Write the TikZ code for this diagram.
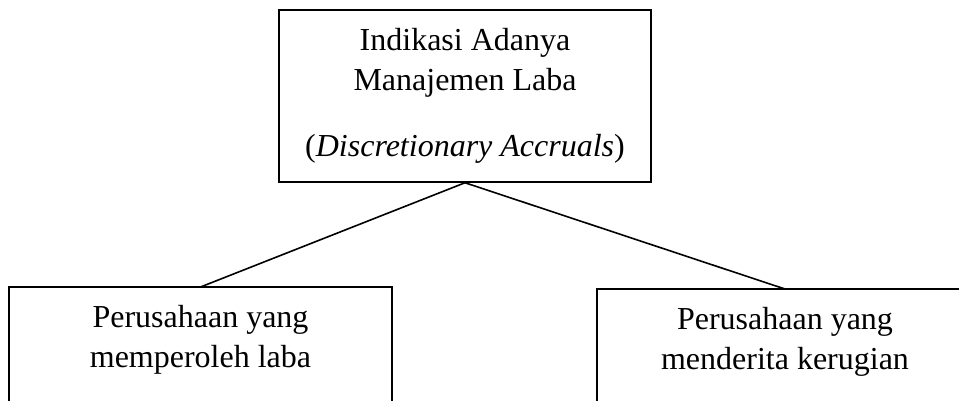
\documentclass[tikz,border=0pt]{standalone}
\usepackage{fontspec}
\setmainfont{Liberation Serif}
\begin{document}
\begin{tikzpicture}[x=1pt,y=-1pt,
  boxline/.style={draw=black,line width=1.5pt},
  txt/.style={anchor=base,inner sep=0pt,font=\fontsize{32}{40}\selectfont},
  link/.style={draw=black,line width=1.6pt}]
\clip (0,0) rectangle (959,401);
% top box
\node[boxline,minimum width=372pt,minimum height=172pt,inner sep=0pt] (topbox) at (465,96) {};
\node[txt] (t1) at (465,51) {Indikasi Adanya};
\node[txt] (t2) at (465,91) {Manajemen Laba};
\node[txt] (t3) at (465,157) {(\textit{Discretionary Accruals})};
% bottom-left box (open at the bottom edge of the picture)
\coordinate (lt) at (200.5,287);
\draw[boxline] (9,410) -- (9,287) -- (392,287) -- (392,410);
\node[txt] (l1) at (200.5,327) {Perusahaan yang};
\node[txt] (l2) at (200.5,367) {memperoleh laba};
% bottom-right box
\coordinate (rt) at (785,289);
\draw[boxline] (597,410) -- (597,289) -- (990,289);
\node[txt] (r1) at (785,329) {Perusahaan yang};
\node[txt] (r2) at (785,369) {menderita kerugian};
% connectors
\draw[link] (topbox.south) -- (lt);
\draw[link] (topbox.south) -- (rt);
\end{tikzpicture}
\end{document}
